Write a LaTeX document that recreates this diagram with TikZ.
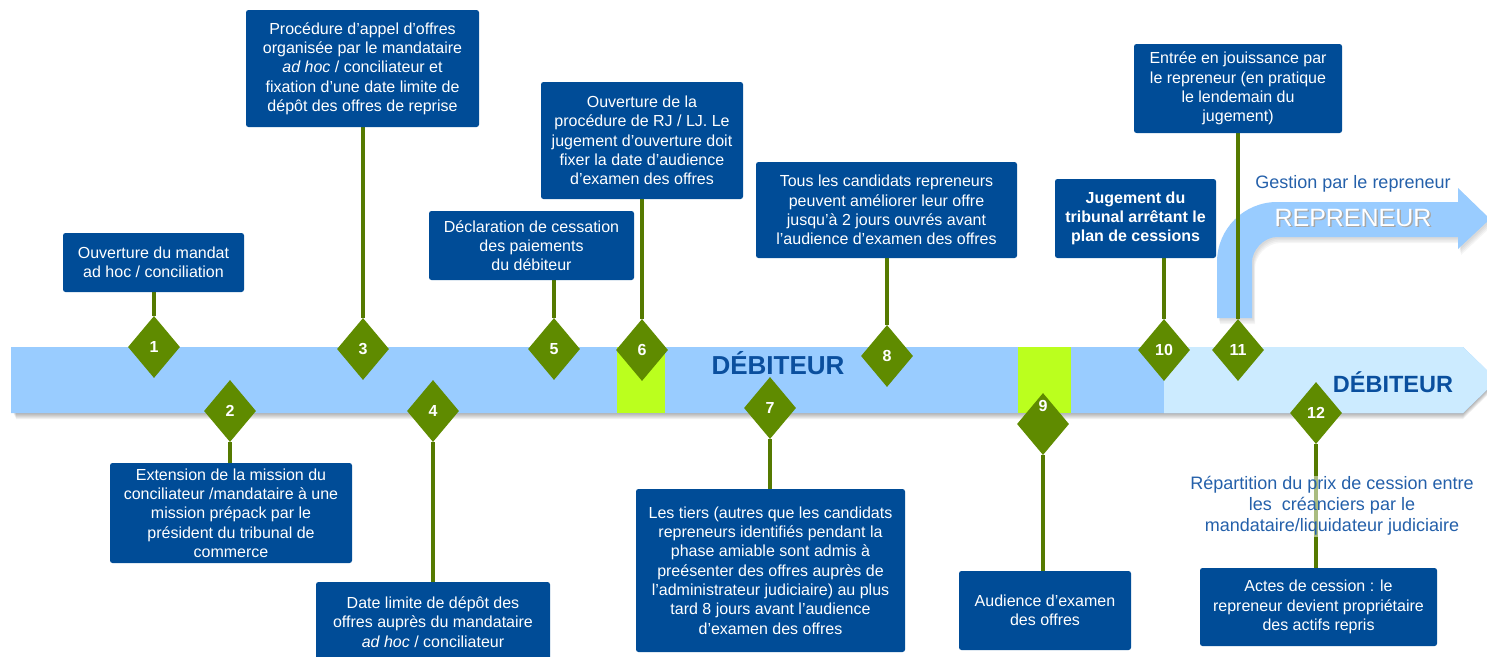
\documentclass[tikz,border=0pt]{standalone}
\usepackage{fontspec}
\setmainfont{Liberation Sans}
\usetikzlibrary{shapes.geometric}

\definecolor{boxblue}{HTML}{004C97}
\definecolor{bandblue}{HTML}{99CCFF}
\definecolor{bandpale}{HTML}{CCEBFF}
\definecolor{limemark}{HTML}{BBFF1E}
\definecolor{msgreen}{HTML}{5F8B00}
\definecolor{lineolive}{HTML}{557A00}
\definecolor{titleblue}{HTML}{0A4F9E}
\definecolor{noteblue}{HTML}{2460AA}

\pgfdeclarelayer{bg}
\pgfdeclarelayer{mid}
\pgfsetlayers{bg,mid,main}

\tikzset{
  box/.style 2 args={fill=boxblue, text=white, rounded corners=2.5pt,
    minimum width=#1pt, minimum height=#2pt, inner sep=0pt, align=center,
    font=\fontsize{16pt}{19.3pt}\selectfont},
  milestone/.style={diamond, fill=msgreen, minimum width=52pt, minimum height=62pt,
    inner sep=0pt, text=white, font=\fontsize{16pt}{16pt}\selectfont\bfseries},
  conn/.style={draw=lineolive, line width=3.2pt},
  bandtitle/.style={text=titleblue, font=\fontsize{26pt}{26pt}\selectfont\bfseries},
}

\begin{document}
\begin{tikzpicture}[x=1pt, y=-1pt]
\useasboundingbox (0,0) rectangle (1487,656);
\clip (0,0) rectangle (1487,656);

% ---- timeline band, its shadow and highlighted periods
\begin{pgfonlayer}{bg}
  \foreach \s in {1,...,6}{
    \fill[black, opacity=0.055] (13+0.5*\s,347+\s) -- (1463,347+\s) -- (1497,380+\s)
      -- (1463,413+\s) -- (13+0.5*\s,413+\s) -- cycle;
  }
  \fill[bandblue] (11,347) -- (1463,347) -- (1497,380) -- (1463,413) -- (11,413) -- cycle;
  \fill[bandpale] (1164,347) -- (1463,347) -- (1497,380) -- (1463,413) -- (1164,413) -- cycle;
  \fill[limemark] (617,347) rectangle (665,413);
  \fill[limemark] (1018,347) rectangle (1071,413);

  % bent arrow for the buyer's management
  \foreach \s in {1,...,4}{
    \fill[black, opacity=0.04, shift={(1+0.5*\s,1.5*\s)}]
      (1217,318) -- (1217,262) .. controls (1217,228.9) and (1243.9,202) .. (1277,202)
      -- (1458,202) -- (1458,188) -- (1490,219) -- (1458,249) -- (1458,237) -- (1277,237)
      .. controls (1263.2,237) and (1252,250.8) .. (1252,262) -- (1252,318) -- cycle;
  }
  \fill[bandblue] (1217,318) -- (1217,262) .. controls (1217,228.9) and (1243.9,202) .. (1277,202)
    -- (1458,202) -- (1458,188) -- (1490,219) -- (1458,249) -- (1458,237) -- (1277,237)
    .. controls (1263.2,237) and (1252,250.8) .. (1252,262) -- (1252,318) -- cycle;
\end{pgfonlayer}

\node[bandtitle] (deb1) at (778,363) {DÉBITEUR};
\node[bandtitle, font=\fontsize{23.5pt}{23.5pt}\selectfont\bfseries] (deb2) at (1393,382) {DÉBITEUR};
\node[text=gray!70, font=\fontsize{25pt}{25pt}\selectfont] (repsh) at (1354.5,219.5) {REPRENEUR};
\node[text=white, font=\fontsize{25pt}{25pt}\selectfont] (rep) at (1353,218) {REPRENEUR};
\node[text=noteblue, font=\fontsize{18pt}{18pt}\selectfont] (gest) at (1353,184) {Gestion par le repreneur};

% ---- milestones
\node[milestone] (d1) at (154,347) {1};
\node[milestone] (d2) at (230,411) {2};
\node[milestone] (d3) at (363,349) {3};
\node[milestone] (d4) at (433,411) {4};
\node[milestone] (d5) at (554,349) {5};
\node[milestone] (d6) at (642,350) {6};
\node[milestone] (d7) at (770,408) {7};
\node[milestone] (d8) at (887,356) {8};
\node[milestone] (d9) at (1043,424) {};
\node[text=white, font=\fontsize{16pt}{16pt}\selectfont\bfseries] (n9) at (1043,406) {9};
\node[milestone] (d10) at (1164,350) {10};
\node[milestone] (d11) at (1238,350) {11};
\node[milestone] (d12) at (1316,413) {12};

% ---- event boxes
\node[box={181}{59}] (b1) at (153.5,262.5) {Ouverture du mandat\\ad hoc / conciliation};
\node[box={242}{100}] (b2) at (231,513) {Extension de la mission du\\conciliateur /mandataire à une\\mission prépack par le\\président du tribunal de\\commerce};
\node[box={233}{117}] (b3) at (362.5,68.5) {Procédure d’appel d’offres\\organisée par le mandataire\\\textit{ad hoc} / conciliateur et\\fixation d’une date limite de\\dépôt des offres de reprise};
\node[box={234}{80}] (b4) at (433,622) {Date limite de dépôt des\\offres auprès du mandataire\\\textit{ad hoc} / conciliateur};
\node[box={205}{69}] (b5) at (531.5,245.5) {Déclaration de cessation\\des paiements\\du débiteur};
\node[box={202}{117}] (b6) at (642,140.5) {Ouverture de la\\procédure de RJ / LJ. Le\\jugement d’ouverture doit\\fixer la date d’audience\\d’examen des offres};
\node[box={269}{163}] (b7) at (770.5,570.5) {Les tiers (autres que les candidats\\repreneurs identifiés pendant la\\phase amiable sont admis à\\preésenter des offres auprès de\\l’administrateur judiciaire) au plus\\tard 8 jours avant l’audience\\d’examen des offres};
\node[box={261}{96}] (b8) at (886.5,210) {Tous les candidats repreneurs\\peuvent améliorer leur offre\\jusqu’à 2 jours ouvrés avant\\l’audience d’examen des offres};
\node[box={172}{79}] (b9) at (1045,610.5) {Audience d’examen\\des offres};
\node[box={161}{79}, font=\fontsize{16pt}{19.3pt}\selectfont\bfseries] (b10) at (1135.5,218.5) {Jugement du\\tribunal arrêtant le\\plan de cessions};
\node[box={208}{89}] (b11) at (1238,88.5) {Entrée en jouissance par\\le repreneur (en pratique\\le lendemain du\\jugement)};
\node[box={237}{78}] (b12) at (1318.5,607) {Actes de cession : le\\repreneur devient propriétaire\\des actifs repris};

% ---- connectors from milestones to their events
\begin{pgfonlayer}{mid}
  \draw[conn] (d1.north) -- (d1.north |- b1.south);
  \draw[conn] (d2.south) -- (d2.south |- b2.north);
  \draw[conn] (d3.north) -- (d3.north |- b3.south);
  \draw[conn] (d4.south) -- (d4.south |- b4.north);
  \draw[conn] (d5.north) -- (d5.north |- b5.south);
  \draw[conn] (d6.north) -- (d6.north |- b6.south);
  \draw[conn] (d7.south) -- (d7.south |- b7.north);
  \draw[conn] (d8.north) -- (d8.north |- b8.south);
  \draw[conn] (d9.south) -- (d9.south |- b9.north);
  \draw[conn] (d10.north) -- (d10.north |- b10.south);
  \draw[conn] (d11.north) -- (d11.north |- b11.south);
  \draw[conn] (d12.south) -- (d12.south |- b12.north);
\end{pgfonlayer}

% ---- note over the last connector
\node[fill=white, fill opacity=0.5, text opacity=1, text=noteblue, inner sep=1pt, align=center,
      font=\fontsize{18pt}{21pt}\selectfont] (repart) at (1332,506)
  {Répartition du prix de cession entre\\les\ \ créanciers par le\\mandataire/liquidateur judiciaire};
\end{tikzpicture}
\end{document}
